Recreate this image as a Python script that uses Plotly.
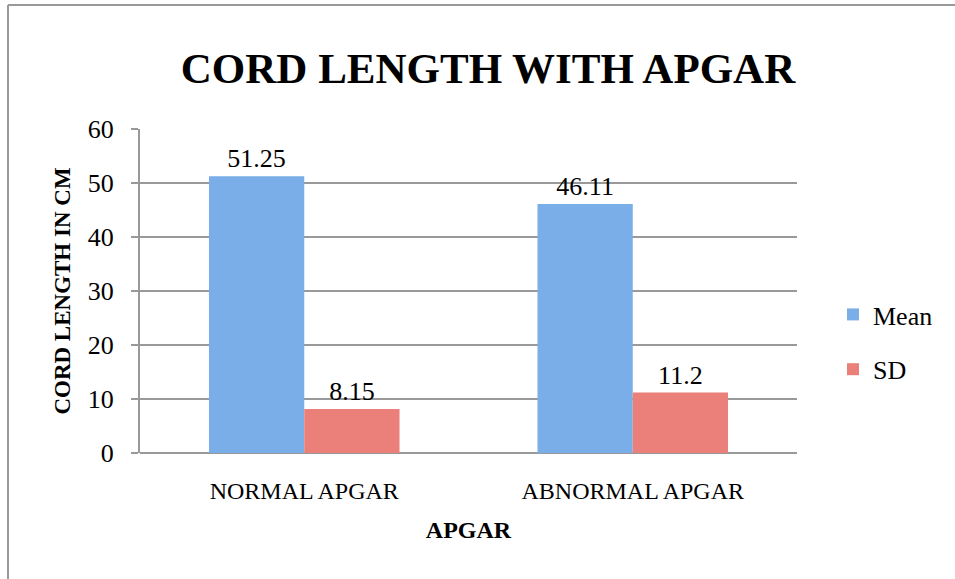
import plotly.graph_objects as go

categories = ["NORMAL APGAR", "ABNORMAL APGAR"]
mean_values = [51.25, 46.11]
sd_values = [8.15, 11.2]
mean_labels = ["51.25", "46.11"]
sd_labels = ["8.15", "11.2"]
y_ticks = [0, 10, 20, 30, 40, 50, 60]

FONT = "Liberation Serif"

fig = go.Figure()
fig.add_trace(go.Bar(
    name="Mean", x=categories, y=mean_values, text=mean_labels,
    textposition="outside", textfont=dict(family=FONT, size=26, color="black"),
    marker=dict(color="#7aaee8", line=dict(width=0)), legendgroup="m",
    cliponaxis=False,
))
fig.add_trace(go.Bar(
    name="SD", x=categories, y=sd_values, text=sd_labels,
    textposition="outside", textfont=dict(family=FONT, size=26, color="black"),
    marker=dict(color="#eb7f79", line=dict(width=0)), legendgroup="s",
    cliponaxis=False,
))

L, R, T, B = 140, 158, 129, 126
W, H = 955, 579
pw, ph = W - L - R, H - T - B

def px_x(p):
    return (p - L) / pw

def px_y(p):
    return (H - B - p) / ph

fig.update_layout(
    width=W, height=H,
    margin=dict(l=L, r=R, t=T, b=B, autoexpand=False),
    paper_bgcolor="white", plot_bgcolor="white",
    barmode="group", bargap=0.42, bargroupgap=0,
    title=dict(text="<b>CORD LENGTH WITH APGAR</b>",
               font=dict(family=FONT, size=43, color="black"),
               xref="container", x=488 / W, xanchor="center",
               yref="container", y=1 - 68 / H, yanchor="middle"),
    font=dict(family=FONT, size=26, color="black"),
    showlegend=True,
    legend=dict(x=px_x(833), y=px_y(291), xanchor="left", yanchor="top",
                traceorder="grouped", tracegroupgap=18,
                font=dict(family=FONT, size=26, color="black"),
                itemwidth=30, bgcolor="rgba(0,0,0,0)"),
    xaxis=dict(
        showgrid=False, showline=False, ticks="",
        tickfont=dict(family=FONT, size=24, color="black"),
        ticklabelstandoff=21,
        title=dict(text="<b>APGAR</b>", font=dict(family=FONT, size=24, color="black"), standoff=18),
    ),
    yaxis=dict(
        range=[0, 60], tickvals=y_ticks, ticktext=[str(v) for v in y_ticks],
        showgrid=True, gridcolor="#999999", gridwidth=2,
        zeroline=True, zerolinecolor="#999999", zerolinewidth=2,
        showline=True, linecolor="#999999", linewidth=2,
        ticks="outside", ticklen=7, tickwidth=2, tickcolor="#999999",
        tickfont=dict(family=FONT, size=26, color="black"),
        ticklabelstandoff=12,
        title=dict(text="<b>CORD LENGTH IN CM</b>", font=dict(family=FONT, size=23, color="black"), standoff=11),
    ),
    shapes=[
        dict(type="line", xref="paper", yref="paper", x0=px_x(8), x1=px_x(8), y0=px_y(5), y1=px_y(579),
             line=dict(color="#999999", width=2)),
        dict(type="line", xref="paper", yref="paper", x0=px_x(8), x1=px_x(955), y0=px_y(5), y1=px_y(5),
             line=dict(color="#999999", width=2)),
    ],
)

fig.write_html("out.html", config={"displayModeBar": False},
               post_script="document.body.style.margin='0';document.body.style.overflow='hidden';")
